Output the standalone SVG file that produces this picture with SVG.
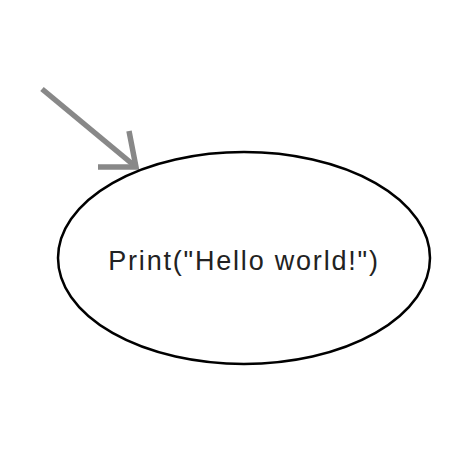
<svg xmlns="http://www.w3.org/2000/svg" width="474" height="474" viewBox="0 0 474 474">
<style>
.node{fill:#fff;stroke:#000;stroke-width:2.5}
.lbl{font-family:"Liberation Sans",Arial,sans-serif;font-size:27px;letter-spacing:1.8px;fill:#222;text-anchor:middle}
.conn{stroke:#888;stroke-width:5.5;fill:none;stroke-linecap:butt;stroke-linejoin:miter}
</style>
<rect width="474" height="474" fill="#fff"/>
<g id="connectors">
<path class="conn" d="M42,89 L136,167"/>
<path class="conn" d="M129,131 L136,167 L98,167"/>
</g>
<g id="node1">
<ellipse class="node" cx="244" cy="258" rx="186" ry="106"/>
<text class="lbl" x="244" y="270">Print("Hello world!")</text>
</g>
</svg>
